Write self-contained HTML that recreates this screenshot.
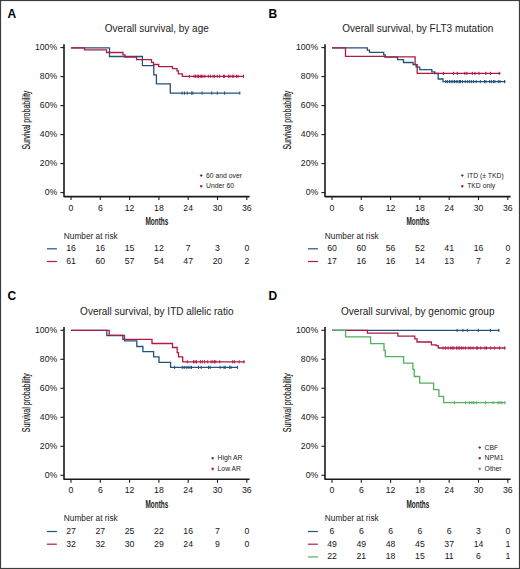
<!DOCTYPE html>
<html><head><meta charset="utf-8"><style>
html,body{margin:0;padding:0;background:#fff;}
body{width:520px;height:569px;overflow:hidden;}
svg{display:block;}
text{font-family:"Liberation Sans",sans-serif;fill:#222;}
.lab{font-size:12px;font-weight:bold;fill:#000;}
.tit{font-size:10px;}
.tk text,.tk{font-size:8.7px;fill:#161616;}
.nar{font-size:8.3px;}
.leg{font-size:6.8px;}
.cond{font-size:10.5px;font-weight:bold;fill:#1a1a1a;}
</style></head><body>
<svg width="520" height="569" viewBox="0 0 520 569">
<rect x="0.5" y="0.5" width="519" height="568" fill="#fff" stroke="#3c3c3c" stroke-width="1.2"/>
<g transform="translate(0,0)">
<text x="7.5" y="17.5" class="lab">A</text>
<text x="156.8" y="32" class="tit" text-anchor="middle">Overall survival, by age</text>
<text class="cond" style="font-weight:normal;fill:#111;stroke:#111;stroke-width:0.12px" text-anchor="middle" transform="translate(29.5,120.1) rotate(-90) scale(0.67,1)">Survival probability</text>
<path d="M64 44.2 V196.6 H249.6" fill="none" stroke="#1a1a1a" stroke-width="1.6" stroke-linejoin="round"/>
<g stroke="#1a1a1a" stroke-width="1.1"><line x1="60.4" y1="47.6" x2="64" y2="47.6"/><line x1="60.4" y1="76.6" x2="64" y2="76.6"/><line x1="60.4" y1="105.6" x2="64" y2="105.6"/><line x1="60.4" y1="134.6" x2="64" y2="134.6"/><line x1="60.4" y1="163.6" x2="64" y2="163.6"/><line x1="60.4" y1="192.6" x2="64" y2="192.6"/><line x1="71" y1="196.6" x2="71" y2="200"/><line x1="100.3" y1="196.6" x2="100.3" y2="200"/><line x1="129.6" y1="196.6" x2="129.6" y2="200"/><line x1="158.9" y1="196.6" x2="158.9" y2="200"/><line x1="188.2" y1="196.6" x2="188.2" y2="200"/><line x1="217.5" y1="196.6" x2="217.5" y2="200"/><line x1="246.8" y1="196.6" x2="246.8" y2="200"/></g>
<g class="tk"><text x="57.2" y="50.1" text-anchor="end">100%</text><text x="57.2" y="79.1" text-anchor="end">80%</text><text x="57.2" y="108.1" text-anchor="end">60%</text><text x="57.2" y="137.1" text-anchor="end">40%</text><text x="57.2" y="166.1" text-anchor="end">20%</text><text x="57.2" y="195.1" text-anchor="end">0%</text><text x="71" y="210.8" text-anchor="middle">0</text><text x="100.3" y="210.8" text-anchor="middle">6</text><text x="129.6" y="210.8" text-anchor="middle">12</text><text x="158.9" y="210.8" text-anchor="middle">18</text><text x="188.2" y="210.8" text-anchor="middle">24</text><text x="217.5" y="210.8" text-anchor="middle">30</text><text x="246.8" y="210.8" text-anchor="middle">36</text></g>
<text class="cond" text-anchor="middle" transform="translate(156.9,225.4) scale(0.615,1)">Months</text>
<text x="63.8" y="238.8" class="nar">Number at risk</text>
<line x1="46.9" y1="248.8" x2="56.9" y2="248.8" stroke="#23527c" stroke-width="1.2"/>
<g class="tk"><text x="71" y="251.4" text-anchor="middle">16</text><text x="100.3" y="251.4" text-anchor="middle">16</text><text x="129.6" y="251.4" text-anchor="middle">15</text><text x="158.9" y="251.4" text-anchor="middle">12</text><text x="188.2" y="251.4" text-anchor="middle">7</text><text x="217.5" y="251.4" text-anchor="middle">3</text><text x="246.8" y="251.4" text-anchor="middle">0</text></g>
<line x1="46.9" y1="261.5" x2="56.9" y2="261.5" stroke="#b01a44" stroke-width="1.2"/>
<g class="tk"><text x="71" y="264.1" text-anchor="middle">61</text><text x="100.3" y="264.1" text-anchor="middle">60</text><text x="129.6" y="264.1" text-anchor="middle">57</text><text x="158.9" y="264.1" text-anchor="middle">54</text><text x="188.2" y="264.1" text-anchor="middle">47</text><text x="217.5" y="264.1" text-anchor="middle">20</text><text x="246.8" y="264.1" text-anchor="middle">2</text></g>
<path d="M199.9 175.5 h2.6 M201.2 174.2 v2.6" stroke="#23527c" stroke-width="1.2"/>
<text x="206.1" y="177.7" class="leg">60 and over</text>
<path d="M199.9 186.2 h2.6 M201.2 184.9 v2.6" stroke="#b01a44" stroke-width="1.2"/>
<text x="206.1" y="188.4" class="leg">Under 60</text>
</g>
<g transform="translate(0,0.3)">
<path d="M71 47.6 H109.5 V56.2 H142.4 V65.4 H153.8 V74.5 H156.4 V83.6 H170.3 V92.8 H240.2" fill="none" stroke="#23527c" stroke-width="1.3" stroke-linejoin="miter"/>
<g stroke="#23527c" stroke-width="1"><line x1="182.2" y1="91.2" x2="182.2" y2="94.4"/><line x1="184.5" y1="91.2" x2="184.5" y2="94.4"/><line x1="187.2" y1="91.2" x2="187.2" y2="94.4"/><line x1="191.6" y1="91.2" x2="191.6" y2="94.4"/><line x1="192.8" y1="91.2" x2="192.8" y2="94.4"/><line x1="202.1" y1="91.2" x2="202.1" y2="94.4"/><line x1="211.75" y1="91.2" x2="211.75" y2="94.4"/><line x1="217.3" y1="91.2" x2="217.3" y2="94.4"/><line x1="224.5" y1="91.2" x2="224.5" y2="94.4"/><line x1="239.8" y1="91.2" x2="239.8" y2="94.4"/></g>
<path d="M71 47.6 H84.5 V49.6 H106.5 V52.2 H123 V54.5 H125 V56.7 H136.6 V59.4 H151.5 V62 H153.5 V64.2 H158.7 V66.3 H172.5 V68.3 H177 V70.5 H178.3 V73.5 H182.4 V76 H244.2" fill="none" stroke="#b01a44" stroke-width="1.3" stroke-linejoin="miter"/>
<g stroke="#b01a44" stroke-width="1"><line x1="189.4" y1="74.4" x2="189.4" y2="77.6"/><line x1="194.1" y1="74.4" x2="194.1" y2="77.6"/><line x1="195.6" y1="74.4" x2="195.6" y2="77.6"/><line x1="197.2" y1="74.4" x2="197.2" y2="77.6"/><line x1="198.5" y1="74.4" x2="198.5" y2="77.6"/><line x1="200.2" y1="74.4" x2="200.2" y2="77.6"/><line x1="201.5" y1="74.4" x2="201.5" y2="77.6"/><line x1="202.9" y1="74.4" x2="202.9" y2="77.6"/><line x1="204.9" y1="74.4" x2="204.9" y2="77.6"/><line x1="208.3" y1="74.4" x2="208.3" y2="77.6"/><line x1="210.3" y1="74.4" x2="210.3" y2="77.6"/><line x1="213" y1="74.4" x2="213" y2="77.6"/><line x1="214.6" y1="74.4" x2="214.6" y2="77.6"/><line x1="217.3" y1="74.4" x2="217.3" y2="77.6"/><line x1="219.6" y1="74.4" x2="219.6" y2="77.6"/><line x1="223.5" y1="74.4" x2="223.5" y2="77.6"/><line x1="224.6" y1="74.4" x2="224.6" y2="77.6"/><line x1="228.5" y1="74.4" x2="228.5" y2="77.6"/><line x1="230" y1="74.4" x2="230" y2="77.6"/><line x1="232.3" y1="74.4" x2="232.3" y2="77.6"/><line x1="233.8" y1="74.4" x2="233.8" y2="77.6"/><line x1="236.5" y1="74.4" x2="236.5" y2="77.6"/><line x1="238.1" y1="74.4" x2="238.1" y2="77.6"/><line x1="243.5" y1="74.4" x2="243.5" y2="77.6"/></g>
</g>
<g transform="translate(261,0)">
<text x="7.5" y="17.5" class="lab">B</text>
<text x="156.8" y="32" class="tit" text-anchor="middle">Overall survival, by FLT3 mutation</text>
<text class="cond" style="font-weight:normal;fill:#111;stroke:#111;stroke-width:0.12px" text-anchor="middle" transform="translate(29.5,120.1) rotate(-90) scale(0.67,1)">Survival probability</text>
<path d="M64 44.2 V196.6 H249.6" fill="none" stroke="#1a1a1a" stroke-width="1.6" stroke-linejoin="round"/>
<g stroke="#1a1a1a" stroke-width="1.1"><line x1="60.4" y1="47.6" x2="64" y2="47.6"/><line x1="60.4" y1="76.6" x2="64" y2="76.6"/><line x1="60.4" y1="105.6" x2="64" y2="105.6"/><line x1="60.4" y1="134.6" x2="64" y2="134.6"/><line x1="60.4" y1="163.6" x2="64" y2="163.6"/><line x1="60.4" y1="192.6" x2="64" y2="192.6"/><line x1="71" y1="196.6" x2="71" y2="200"/><line x1="100.3" y1="196.6" x2="100.3" y2="200"/><line x1="129.6" y1="196.6" x2="129.6" y2="200"/><line x1="158.9" y1="196.6" x2="158.9" y2="200"/><line x1="188.2" y1="196.6" x2="188.2" y2="200"/><line x1="217.5" y1="196.6" x2="217.5" y2="200"/><line x1="246.8" y1="196.6" x2="246.8" y2="200"/></g>
<g class="tk"><text x="57.2" y="50.1" text-anchor="end">100%</text><text x="57.2" y="79.1" text-anchor="end">80%</text><text x="57.2" y="108.1" text-anchor="end">60%</text><text x="57.2" y="137.1" text-anchor="end">40%</text><text x="57.2" y="166.1" text-anchor="end">20%</text><text x="57.2" y="195.1" text-anchor="end">0%</text><text x="71" y="210.8" text-anchor="middle">0</text><text x="100.3" y="210.8" text-anchor="middle">6</text><text x="129.6" y="210.8" text-anchor="middle">12</text><text x="158.9" y="210.8" text-anchor="middle">18</text><text x="188.2" y="210.8" text-anchor="middle">24</text><text x="217.5" y="210.8" text-anchor="middle">30</text><text x="246.8" y="210.8" text-anchor="middle">36</text></g>
<text class="cond" text-anchor="middle" transform="translate(156.9,225.4) scale(0.615,1)">Months</text>
<text x="63.8" y="238.8" class="nar">Number at risk</text>
<line x1="46.9" y1="248.8" x2="56.9" y2="248.8" stroke="#23527c" stroke-width="1.2"/>
<g class="tk"><text x="71" y="251.4" text-anchor="middle">60</text><text x="100.3" y="251.4" text-anchor="middle">60</text><text x="129.6" y="251.4" text-anchor="middle">56</text><text x="158.9" y="251.4" text-anchor="middle">52</text><text x="188.2" y="251.4" text-anchor="middle">41</text><text x="217.5" y="251.4" text-anchor="middle">16</text><text x="246.8" y="251.4" text-anchor="middle">0</text></g>
<line x1="46.9" y1="261.5" x2="56.9" y2="261.5" stroke="#b01a44" stroke-width="1.2"/>
<g class="tk"><text x="71" y="264.1" text-anchor="middle">17</text><text x="100.3" y="264.1" text-anchor="middle">16</text><text x="129.6" y="264.1" text-anchor="middle">16</text><text x="158.9" y="264.1" text-anchor="middle">14</text><text x="188.2" y="264.1" text-anchor="middle">13</text><text x="217.5" y="264.1" text-anchor="middle">7</text><text x="246.8" y="264.1" text-anchor="middle">2</text></g>
<path d="M200 175.5 h2.6 M201.3 174.2 v2.6" stroke="#23527c" stroke-width="1.2"/>
<text x="206.2" y="177.7" class="leg">ITD (± TKD)</text>
<path d="M200 186.2 h2.6 M201.3 184.9 v2.6" stroke="#b01a44" stroke-width="1.2"/>
<text x="206.2" y="188.4" class="leg">TKD only</text>
</g>
<g transform="translate(0,0.3)">
<path d="M332 47.6 H367.3 V49.8 H369.5 V52 H383.7 V54.5 H385.2 V56.8 H397.6 V59.4 H403.5 V62.2 H413 V64.2 H416.2 V66.8 H419.8 V69.3 H431.8 V71.6 H434.7 V73.2 H438.2 V78.7 H443 V81.3 H505.6" fill="none" stroke="#23527c" stroke-width="1.3" stroke-linejoin="miter"/>
<g stroke="#23527c" stroke-width="1"><line x1="445.7" y1="79.7" x2="445.7" y2="82.9"/><line x1="447.4" y1="79.7" x2="447.4" y2="82.9"/><line x1="449.4" y1="79.7" x2="449.4" y2="82.9"/><line x1="451.1" y1="79.7" x2="451.1" y2="82.9"/><line x1="452.8" y1="79.7" x2="452.8" y2="82.9"/><line x1="454.5" y1="79.7" x2="454.5" y2="82.9"/><line x1="456.2" y1="79.7" x2="456.2" y2="82.9"/><line x1="457.8" y1="79.7" x2="457.8" y2="82.9"/><line x1="459.5" y1="79.7" x2="459.5" y2="82.9"/><line x1="460.5" y1="79.7" x2="460.5" y2="82.9"/><line x1="462.5" y1="79.7" x2="462.5" y2="82.9"/><line x1="465.2" y1="79.7" x2="465.2" y2="82.9"/><line x1="467.6" y1="79.7" x2="467.6" y2="82.9"/><line x1="469.6" y1="79.7" x2="469.6" y2="82.9"/><line x1="471.6" y1="79.7" x2="471.6" y2="82.9"/><line x1="473.6" y1="79.7" x2="473.6" y2="82.9"/><line x1="476.2" y1="79.7" x2="476.2" y2="82.9"/><line x1="480.3" y1="79.7" x2="480.3" y2="82.9"/><line x1="484.5" y1="79.7" x2="484.5" y2="82.9"/><line x1="485.9" y1="79.7" x2="485.9" y2="82.9"/><line x1="489.7" y1="79.7" x2="489.7" y2="82.9"/><line x1="491.4" y1="79.7" x2="491.4" y2="82.9"/><line x1="493.5" y1="79.7" x2="493.5" y2="82.9"/><line x1="494.9" y1="79.7" x2="494.9" y2="82.9"/><line x1="498.3" y1="79.7" x2="498.3" y2="82.9"/><line x1="500" y1="79.7" x2="500" y2="82.9"/><line x1="504.5" y1="79.7" x2="504.5" y2="82.9"/></g>
<path d="M332 47.6 H345.5 V56.1 H384.8 V56.6 H415.1 V64.4 H417.2 V73.1 H500.6" fill="none" stroke="#b01a44" stroke-width="1.3" stroke-linejoin="miter"/>
<g stroke="#b01a44" stroke-width="1"><line x1="443.4" y1="71.5" x2="443.4" y2="74.7"/><line x1="453.5" y1="71.5" x2="453.5" y2="74.7"/><line x1="457.3" y1="71.5" x2="457.3" y2="74.7"/><line x1="464.9" y1="71.5" x2="464.9" y2="74.7"/><line x1="466.9" y1="71.5" x2="466.9" y2="74.7"/><line x1="472.3" y1="71.5" x2="472.3" y2="74.7"/><line x1="475" y1="71.5" x2="475" y2="74.7"/><line x1="479" y1="71.5" x2="479" y2="74.7"/><line x1="485.8" y1="71.5" x2="485.8" y2="74.7"/><line x1="490.5" y1="71.5" x2="490.5" y2="74.7"/><line x1="499.2" y1="71.5" x2="499.2" y2="74.7"/></g>
</g>
<g transform="translate(0,282.7)">
<text x="7.5" y="17.5" class="lab">C</text>
<text x="156.8" y="32" class="tit" text-anchor="middle">Overall survival, by ITD allelic ratio</text>
<text class="cond" style="font-weight:normal;fill:#111;stroke:#111;stroke-width:0.12px" text-anchor="middle" transform="translate(29.5,120.1) rotate(-90) scale(0.67,1)">Survival probability</text>
<path d="M64 44.2 V196.6 H249.6" fill="none" stroke="#1a1a1a" stroke-width="1.6" stroke-linejoin="round"/>
<g stroke="#1a1a1a" stroke-width="1.1"><line x1="60.4" y1="47.6" x2="64" y2="47.6"/><line x1="60.4" y1="76.6" x2="64" y2="76.6"/><line x1="60.4" y1="105.6" x2="64" y2="105.6"/><line x1="60.4" y1="134.6" x2="64" y2="134.6"/><line x1="60.4" y1="163.6" x2="64" y2="163.6"/><line x1="60.4" y1="192.6" x2="64" y2="192.6"/><line x1="71" y1="196.6" x2="71" y2="200"/><line x1="100.3" y1="196.6" x2="100.3" y2="200"/><line x1="129.6" y1="196.6" x2="129.6" y2="200"/><line x1="158.9" y1="196.6" x2="158.9" y2="200"/><line x1="188.2" y1="196.6" x2="188.2" y2="200"/><line x1="217.5" y1="196.6" x2="217.5" y2="200"/><line x1="246.8" y1="196.6" x2="246.8" y2="200"/></g>
<g class="tk"><text x="57.2" y="50.1" text-anchor="end">100%</text><text x="57.2" y="79.1" text-anchor="end">80%</text><text x="57.2" y="108.1" text-anchor="end">60%</text><text x="57.2" y="137.1" text-anchor="end">40%</text><text x="57.2" y="166.1" text-anchor="end">20%</text><text x="57.2" y="195.1" text-anchor="end">0%</text><text x="71" y="210.8" text-anchor="middle">0</text><text x="100.3" y="210.8" text-anchor="middle">6</text><text x="129.6" y="210.8" text-anchor="middle">12</text><text x="158.9" y="210.8" text-anchor="middle">18</text><text x="188.2" y="210.8" text-anchor="middle">24</text><text x="217.5" y="210.8" text-anchor="middle">30</text><text x="246.8" y="210.8" text-anchor="middle">36</text></g>
<text class="cond" text-anchor="middle" transform="translate(156.9,225.4) scale(0.615,1)">Months</text>
<text x="63.8" y="238.8" class="nar">Number at risk</text>
<line x1="46.9" y1="248.8" x2="56.9" y2="248.8" stroke="#23527c" stroke-width="1.2"/>
<g class="tk"><text x="71" y="251.4" text-anchor="middle">27</text><text x="100.3" y="251.4" text-anchor="middle">27</text><text x="129.6" y="251.4" text-anchor="middle">25</text><text x="158.9" y="251.4" text-anchor="middle">22</text><text x="188.2" y="251.4" text-anchor="middle">16</text><text x="217.5" y="251.4" text-anchor="middle">7</text><text x="246.8" y="251.4" text-anchor="middle">0</text></g>
<line x1="46.9" y1="261.5" x2="56.9" y2="261.5" stroke="#b01a44" stroke-width="1.2"/>
<g class="tk"><text x="71" y="264.1" text-anchor="middle">32</text><text x="100.3" y="264.1" text-anchor="middle">32</text><text x="129.6" y="264.1" text-anchor="middle">30</text><text x="158.9" y="264.1" text-anchor="middle">29</text><text x="188.2" y="264.1" text-anchor="middle">24</text><text x="217.5" y="264.1" text-anchor="middle">9</text><text x="246.8" y="264.1" text-anchor="middle">0</text></g>
<path d="M211.4 175.5 h2.6 M212.7 174.2 v2.6" stroke="#23527c" stroke-width="1.2"/>
<text x="217.6" y="177.7" class="leg">High AR</text>
<path d="M211.4 186.2 h2.6 M212.7 184.9 v2.6" stroke="#b01a44" stroke-width="1.2"/>
<text x="217.6" y="188.4" class="leg">Low AR</text>
</g>
<g transform="translate(0,0.3)">
<path d="M71 330.1 H106.8 V335.2 H124.5 V340.6 H136.8 V346.2 H142.9 V351.3 H153.6 V356.6 H159 V362 H170.6 V367.1 H237.6" fill="none" stroke="#23527c" stroke-width="1.3" stroke-linejoin="miter"/>
<g stroke="#23527c" stroke-width="1"><line x1="174.6" y1="365.5" x2="174.6" y2="368.7"/><line x1="182.3" y1="365.5" x2="182.3" y2="368.7"/><line x1="184.2" y1="365.5" x2="184.2" y2="368.7"/><line x1="186.2" y1="365.5" x2="186.2" y2="368.7"/><line x1="188.1" y1="365.5" x2="188.1" y2="368.7"/><line x1="190" y1="365.5" x2="190" y2="368.7"/><line x1="191.5" y1="365.5" x2="191.5" y2="368.7"/><line x1="198.5" y1="365.5" x2="198.5" y2="368.7"/><line x1="201.2" y1="365.5" x2="201.2" y2="368.7"/><line x1="208.5" y1="365.5" x2="208.5" y2="368.7"/><line x1="210.2" y1="365.5" x2="210.2" y2="368.7"/><line x1="220.1" y1="365.5" x2="220.1" y2="368.7"/><line x1="224" y1="365.5" x2="224" y2="368.7"/><line x1="225.3" y1="365.5" x2="225.3" y2="368.7"/><line x1="229.7" y1="365.5" x2="229.7" y2="368.7"/><line x1="231" y1="365.5" x2="231" y2="368.7"/><line x1="237.4" y1="365.5" x2="237.4" y2="368.7"/></g>
<path d="M71 330.1 H109.2 V335 H122.8 V339 H152 V343.2 H172.5 V347.2 H177.2 V352.4 H178.5 V356.5 H182.7 V361.5 H244.8" fill="none" stroke="#b01a44" stroke-width="1.3" stroke-linejoin="miter"/>
<g stroke="#b01a44" stroke-width="1"><line x1="187.3" y1="359.9" x2="187.3" y2="363.1"/><line x1="193.5" y1="359.9" x2="193.5" y2="363.1"/><line x1="195" y1="359.9" x2="195" y2="363.1"/><line x1="196.5" y1="359.9" x2="196.5" y2="363.1"/><line x1="200.4" y1="359.9" x2="200.4" y2="363.1"/><line x1="202.3" y1="359.9" x2="202.3" y2="363.1"/><line x1="204.6" y1="359.9" x2="204.6" y2="363.1"/><line x1="207.7" y1="359.9" x2="207.7" y2="363.1"/><line x1="211.1" y1="359.9" x2="211.1" y2="363.1"/><line x1="212.8" y1="359.9" x2="212.8" y2="363.1"/><line x1="214.5" y1="359.9" x2="214.5" y2="363.1"/><line x1="215.8" y1="359.9" x2="215.8" y2="363.1"/><line x1="219.7" y1="359.9" x2="219.7" y2="363.1"/><line x1="232.7" y1="359.9" x2="232.7" y2="363.1"/><line x1="234.4" y1="359.9" x2="234.4" y2="363.1"/><line x1="239.2" y1="359.9" x2="239.2" y2="363.1"/><line x1="243.9" y1="359.9" x2="243.9" y2="363.1"/></g>
</g>
<g transform="translate(261,282.7)">
<text x="7.5" y="17.5" class="lab">D</text>
<text x="156.8" y="32" class="tit" text-anchor="middle">Overall survival, by genomic group</text>
<text class="cond" style="font-weight:normal;fill:#111;stroke:#111;stroke-width:0.12px" text-anchor="middle" transform="translate(29.5,120.1) rotate(-90) scale(0.67,1)">Survival probability</text>
<path d="M64 44.2 V196.6 H249.6" fill="none" stroke="#1a1a1a" stroke-width="1.6" stroke-linejoin="round"/>
<g stroke="#1a1a1a" stroke-width="1.1"><line x1="60.4" y1="47.6" x2="64" y2="47.6"/><line x1="60.4" y1="76.6" x2="64" y2="76.6"/><line x1="60.4" y1="105.6" x2="64" y2="105.6"/><line x1="60.4" y1="134.6" x2="64" y2="134.6"/><line x1="60.4" y1="163.6" x2="64" y2="163.6"/><line x1="60.4" y1="192.6" x2="64" y2="192.6"/><line x1="71" y1="196.6" x2="71" y2="200"/><line x1="100.3" y1="196.6" x2="100.3" y2="200"/><line x1="129.6" y1="196.6" x2="129.6" y2="200"/><line x1="158.9" y1="196.6" x2="158.9" y2="200"/><line x1="188.2" y1="196.6" x2="188.2" y2="200"/><line x1="217.5" y1="196.6" x2="217.5" y2="200"/><line x1="246.8" y1="196.6" x2="246.8" y2="200"/></g>
<g class="tk"><text x="57.2" y="50.1" text-anchor="end">100%</text><text x="57.2" y="79.1" text-anchor="end">80%</text><text x="57.2" y="108.1" text-anchor="end">60%</text><text x="57.2" y="137.1" text-anchor="end">40%</text><text x="57.2" y="166.1" text-anchor="end">20%</text><text x="57.2" y="195.1" text-anchor="end">0%</text><text x="71" y="210.8" text-anchor="middle">0</text><text x="100.3" y="210.8" text-anchor="middle">6</text><text x="129.6" y="210.8" text-anchor="middle">12</text><text x="158.9" y="210.8" text-anchor="middle">18</text><text x="188.2" y="210.8" text-anchor="middle">24</text><text x="217.5" y="210.8" text-anchor="middle">30</text><text x="246.8" y="210.8" text-anchor="middle">36</text></g>
<text class="cond" text-anchor="middle" transform="translate(156.9,225.4) scale(0.615,1)">Months</text>
<text x="63.8" y="238.8" class="nar">Number at risk</text>
<line x1="46.9" y1="248.8" x2="56.9" y2="248.8" stroke="#23527c" stroke-width="1.2"/>
<g class="tk"><text x="71" y="251.4" text-anchor="middle">6</text><text x="100.3" y="251.4" text-anchor="middle">6</text><text x="129.6" y="251.4" text-anchor="middle">6</text><text x="158.9" y="251.4" text-anchor="middle">6</text><text x="188.2" y="251.4" text-anchor="middle">6</text><text x="217.5" y="251.4" text-anchor="middle">3</text><text x="246.8" y="251.4" text-anchor="middle">0</text></g>
<line x1="46.9" y1="261.5" x2="56.9" y2="261.5" stroke="#b01a44" stroke-width="1.2"/>
<g class="tk"><text x="71" y="264.1" text-anchor="middle">49</text><text x="100.3" y="264.1" text-anchor="middle">49</text><text x="129.6" y="264.1" text-anchor="middle">48</text><text x="158.9" y="264.1" text-anchor="middle">45</text><text x="188.2" y="264.1" text-anchor="middle">37</text><text x="217.5" y="264.1" text-anchor="middle">14</text><text x="246.8" y="264.1" text-anchor="middle">1</text></g>
<line x1="46.9" y1="274.2" x2="56.9" y2="274.2" stroke="#52b060" stroke-width="1.2"/>
<g class="tk"><text x="71" y="276.8" text-anchor="middle">22</text><text x="100.3" y="276.8" text-anchor="middle">21</text><text x="129.6" y="276.8" text-anchor="middle">18</text><text x="158.9" y="276.8" text-anchor="middle">15</text><text x="188.2" y="276.8" text-anchor="middle">11</text><text x="217.5" y="276.8" text-anchor="middle">6</text><text x="246.8" y="276.8" text-anchor="middle">1</text></g>
<path d="M217.4 164.8 h2.6 M218.7 163.5 v2.6" stroke="#23527c" stroke-width="1.2"/>
<text x="223.6" y="167" class="leg">CBF</text>
<path d="M217.4 175.5 h2.6 M218.7 174.2 v2.6" stroke="#b01a44" stroke-width="1.2"/>
<text x="223.6" y="177.7" class="leg">NPM1</text>
<path d="M217.4 186.2 h2.6 M218.7 184.9 v2.6" stroke="#52b060" stroke-width="1.2"/>
<text x="223.6" y="188.4" class="leg">Other</text>
</g>
<g transform="translate(0,0.3)">
<path d="M332 330.1 H499.4" fill="none" stroke="#23527c" stroke-width="1.3" stroke-linejoin="miter"/>
<g stroke="#23527c" stroke-width="1"><line x1="457.1" y1="328.5" x2="457.1" y2="331.7"/><line x1="462.9" y1="328.5" x2="462.9" y2="331.7"/><line x1="467.3" y1="328.5" x2="467.3" y2="331.7"/><line x1="478.3" y1="328.5" x2="478.3" y2="331.7"/><line x1="490.4" y1="328.5" x2="490.4" y2="331.7"/><line x1="498.8" y1="328.5" x2="498.8" y2="331.7"/></g>
<path d="M332 330.1 H367.4 V332.9 H397.9 V335.8 H414.8 V338.5 H417 V341.7 H431.4 V344.5 H436 V345.4 H438.3 V347.7 H505.6" fill="none" stroke="#b01a44" stroke-width="1.3" stroke-linejoin="miter"/>
<g stroke="#b01a44" stroke-width="1"><line x1="443.1" y1="346.1" x2="443.1" y2="349.3"/><line x1="445.4" y1="346.1" x2="445.4" y2="349.3"/><line x1="448.1" y1="346.1" x2="448.1" y2="349.3"/><line x1="450.8" y1="346.1" x2="450.8" y2="349.3"/><line x1="452.3" y1="346.1" x2="452.3" y2="349.3"/><line x1="453.8" y1="346.1" x2="453.8" y2="349.3"/><line x1="456.5" y1="346.1" x2="456.5" y2="349.3"/><line x1="458.1" y1="346.1" x2="458.1" y2="349.3"/><line x1="459.6" y1="346.1" x2="459.6" y2="349.3"/><line x1="461.5" y1="346.1" x2="461.5" y2="349.3"/><line x1="463.1" y1="346.1" x2="463.1" y2="349.3"/><line x1="465.4" y1="346.1" x2="465.4" y2="349.3"/><line x1="468.8" y1="346.1" x2="468.8" y2="349.3"/><line x1="470.8" y1="346.1" x2="470.8" y2="349.3"/><line x1="473.1" y1="346.1" x2="473.1" y2="349.3"/><line x1="476.5" y1="346.1" x2="476.5" y2="349.3"/><line x1="477.7" y1="346.1" x2="477.7" y2="349.3"/><line x1="480.8" y1="346.1" x2="480.8" y2="349.3"/><line x1="485" y1="346.1" x2="485" y2="349.3"/><line x1="486.5" y1="346.1" x2="486.5" y2="349.3"/><line x1="490.8" y1="346.1" x2="490.8" y2="349.3"/><line x1="494.6" y1="346.1" x2="494.6" y2="349.3"/><line x1="499.6" y1="346.1" x2="499.6" y2="349.3"/><line x1="504.6" y1="346.1" x2="504.6" y2="349.3"/></g>
<path d="M332 330.1 H345.6 V336.5 H370.6 V343.3 H384 V350 H385.3 V356.4 H403.6 V362.9 H412.9 V369.1 H414.2 V376.2 H419.7 V382.9 H433.6 V389.3 H438.9 V396 H443.6 V402.4 H505.2" fill="none" stroke="#52b060" stroke-width="1.3" stroke-linejoin="miter"/>
<g stroke="#52b060" stroke-width="1"><line x1="454.4" y1="400.8" x2="454.4" y2="404"/><line x1="465.6" y1="400.8" x2="465.6" y2="404"/><line x1="469.4" y1="400.8" x2="469.4" y2="404"/><line x1="471.9" y1="400.8" x2="471.9" y2="404"/><line x1="473.75" y1="400.8" x2="473.75" y2="404"/><line x1="476.25" y1="400.8" x2="476.25" y2="404"/><line x1="485.6" y1="400.8" x2="485.6" y2="404"/><line x1="493.1" y1="400.8" x2="493.1" y2="404"/><line x1="498.1" y1="400.8" x2="498.1" y2="404"/><line x1="500" y1="400.8" x2="500" y2="404"/><line x1="501.9" y1="400.8" x2="501.9" y2="404"/><line x1="505" y1="400.8" x2="505" y2="404"/></g>
</g>
</svg>
</body></html>
